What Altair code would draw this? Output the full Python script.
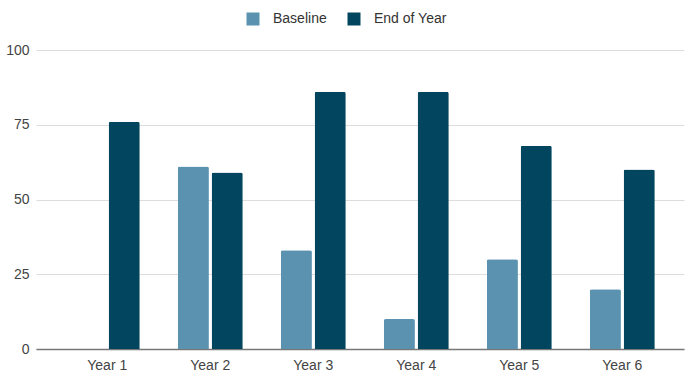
import altair as alt
import pandas as pd

years = ["Year 1", "Year 2", "Year 3", "Year 4", "Year 5", "Year 6"]
baseline = [None, 61, 33, 10, 30, 20]
end_of_year = [76, 59, 86, 86, 68, 60]
series = ["Baseline", "End of Year"]
colors = ["#5a92b0", "#02455f"]

rows = []
for i, y in enumerate(years):
    rows.append({"year": y, "series": series[0], "value": baseline[i]})
    rows.append({"year": y, "series": series[1], "value": end_of_year[i]})
df = pd.DataFrame(rows)

font = "Liberation Sans"

chart = alt.Chart(df).mark_bar(cornerRadiusTopLeft=2, cornerRadiusTopRight=2).encode(
    x=alt.X("year:N", sort=years, title=None,
            scale=alt.Scale(paddingInner=0.369, paddingOuter=0.33, align=0.57),
            axis=alt.Axis(labelAngle=0, ticks=False, domain=True, domainColor="#777777",
                          domainWidth=1.5, labelPadding=9, labelFont=font,
                          labelFontSize=14, labelColor="#444444")),
    xOffset=alt.XOffset("series:N", sort=series,
                        scale=alt.Scale(paddingInner=0.08, paddingOuter=0)),
    y=alt.Y("value:Q", title=None,
            scale=alt.Scale(domain=[0, 100], nice=False),
            axis=alt.Axis(values=[0, 25, 50, 75, 100], domain=False, ticks=False,
                          gridColor="#dddddd", gridWidth=1, labelPadding=7,
                          labelFont=font, labelFontSize=14, labelColor="#444444")),
    color=alt.Color("series:N", sort=series,
                    scale=alt.Scale(domain=series, range=colors),
                    legend=alt.Legend(title=None, orient="none", direction="horizontal",
                                      legendX=210, legendY=-38, symbolType="square",
                                      symbolSize=169, symbolStrokeWidth=0,
                                      labelFont=font, labelFontSize=14,
                                      labelColor="#333333", columnPadding=20,
                                      labelOffset=13)),
).properties(
    width=648, height=299,
    autosize=alt.AutoSizeParams(type="none"),
    padding={"left": 36, "top": 50, "right": 1, "bottom": 25},
).configure_view(stroke=None).configure_axis(gridColor="#dddddd")

chart.save("out.html", embed_options={"renderer": "svg", "actions": False})
